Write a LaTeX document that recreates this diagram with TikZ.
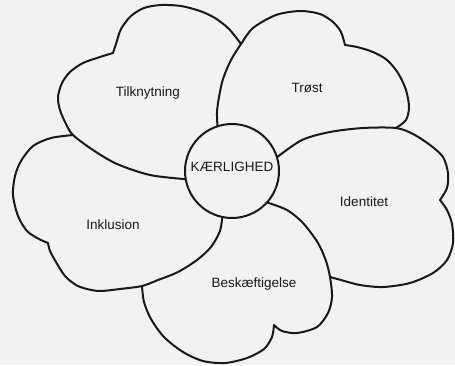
\documentclass[tikz,border=0pt]{standalone}
\usepackage{fontspec}
\newfontfamily\petalfont{Liberation Sans}

\begin{document}
\begin{tikzpicture}[x=1pt, y=-1pt,
	every node/.style={font=\petalfont\fontsize{13.5}{16}\selectfont, text=black!90},
	petal/.style={line width=2pt, line join=round, line cap=round, black!90}]
	\useasboundingbox[fill=black!5] (0,0) rectangle (455,365);
	\node[draw=black!90, circle, minimum size=94pt, inner sep=0pt, outer sep=0pt, line width=2pt] (hub) at (232,171) {};
	\node (love) at (232,167) {KÆRLIGHED};
	\node (tilk) at (148,93) {Tilknytning};
	\node (trost) at (307,88) {Trøst};
	\node (ident) at (364,202) {Identitet};
	\node (besk) at (254,284) {Beskæftigelse};
	\node (inkl) at (113,225) {Inklusion};
	% where one petal goes behind the next
	\coordinate (tt) at (241,44);
	\coordinate (ti) at (396,128);
	\coordinate (ib) at (330,277);
	\coordinate (bk) at (142,286);
	\coordinate (kt) at (73,135);
	% Tilknytning
	\draw[petal] plot[smooth] coordinates {(hub.190) (150,175) (117,164) (93,150) (kt) (66,124) (60,110) (58,97) (62,83) (70,72) (83,63) (100,57) (113,53)}
		-- plot[smooth] coordinates {(113,53) (116,44) (121,29) (131,16) (144,8) (161,5) (181,6) (200,11) (215,18) (229,29) (tt)};
	% Trøst
	\draw[petal] plot[smooth] coordinates {(hub.108) (217,112) (219,97) (223,79) (231,60) (tt) (253,28) (276,15) (300,11) (320,14) (333,22) (341,32) (345,45)}
		-- plot[smooth] coordinates {(345,45) (357,47) (373,52) (387,60) (398,73) (406,90) (409,107) (406,120) (ti)};
	% Identitet
	\draw[petal] plot[smooth] coordinates {(hub.17) (302,140) (330,132) (363,128) (ti) (413,134) (430,145) (443,157) (448,173) (447,188) (440,200)}
		-- plot[smooth] coordinates {(440,200) (447,210) (452,224) (453,243) (447,260) (433,273) (410,283) (383,287) (360,285) (341,280) (ib)};
	% Beskæftigelse
	\draw[petal] plot[smooth] coordinates {(hub.-42) (287,210) (303,223) (318,243) (326,261) (ib) (332,297) (328,313) (317,327) (297,333) (282,331) (274,325)}
		-- plot[smooth] coordinates {(274,325) (272,337) (264,349) (247,358) (225,363) (203,361) (183,352) (164,337) (151,319) (144,302) (bk)};
	% Inklusion
	\draw[petal] plot[smooth] coordinates {(hub.-102) (220,231) (211,247) (197,260) (178,272) (158,280) (bk) (120,289) (100,291) (87,289) (76,285) (65,276) (56,262) (50,251) (48,243)}
		-- plot[smooth] coordinates {(48,243) (39,239) (27,231) (18,216) (13,195) (15,176) (21,161) (33,146) (51,138) (kt)};
\end{tikzpicture}
\end{document}
